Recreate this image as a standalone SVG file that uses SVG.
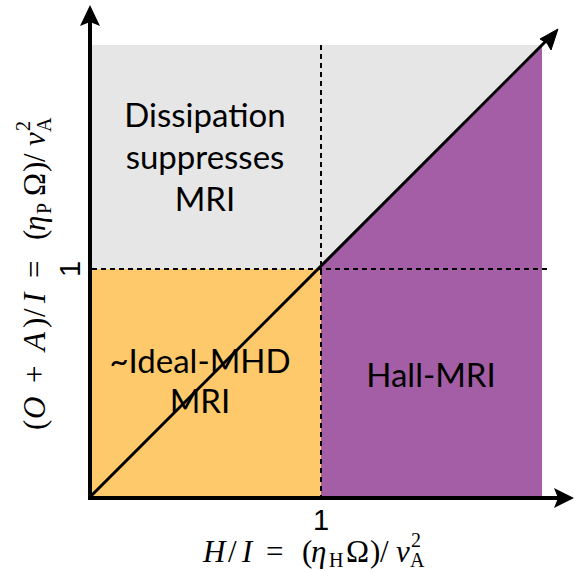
<svg xmlns="http://www.w3.org/2000/svg" width="574" height="572" viewBox="0 0 574 572">
<style>
.lbl{font-family:Lato,"Open Sans","Liberation Sans",sans-serif;font-size:33px;fill:#000;text-anchor:middle}
.math{font-family:"Liberation Serif","DejaVu Serif",serif;font-size:31px;fill:#000}
.it{font-style:italic}
.sm{font-size:20px}
.tick{font-family:"Liberation Sans",Arial,sans-serif;font-size:29px;fill:#000;text-anchor:middle}
.dash{stroke:#000;stroke-width:2;stroke-dasharray:5,4;fill:none}
.axis{stroke:#000;stroke-width:4;fill:none}
</style>
<rect width="574" height="572" fill="#fff"/>
<g id="region-dissipation">
<rect x="92" y="45" width="450" height="224" fill="#e6e6e6"/>
</g>
<g id="region-ideal">
<rect x="92" y="269" width="229" height="228" fill="#fdc96a"/>
</g>
<g id="region-hall">
<polygon points="321,269 321,497 542,497 542,46 319,269" fill="#a45ea6"/>
</g>
<g id="connectors">
<line class="dash" x1="321" y1="45" x2="321" y2="497"/>
<line class="dash" x1="92" y1="269" x2="551" y2="269"/>
<line x1="90" y1="497" x2="548" y2="39" stroke="#000" stroke-width="3"/>
<path d="M558,29 L551,50 L547,43 L540,39 Z" fill="#000" stroke="#000" stroke-width="1"/>
<line class="axis" x1="90" y1="499" x2="90" y2="22"/>
<path d="M90,5 L100,26 L90,22 L80,26 Z" fill="#000"/>
<line class="axis" x1="88" y1="498" x2="558" y2="498"/>
<path d="M574,498 L554,488 L558,498 L554,508 Z" fill="#000"/>
</g>
<g id="label-dissipation">
<text class="lbl" x="205" y="127">Dissipation</text>
<text class="lbl" x="205" y="169">suppresses</text>
<text class="lbl" x="205" y="211">MRI</text>
</g>
<g id="label-ideal">
<text class="lbl" x="200" y="373">~Ideal-MHD</text>
<text class="lbl" x="200" y="413">MRI</text>
</g>
<g id="label-hall">
<text class="lbl" x="431" y="387">Hall-MRI</text>
</g>
<g id="x-axis-label">
<text class="tick" x="321" y="530">1</text>
<text class="math" y="562"><tspan class="it" x="203">H</tspan><tspan x="228">/</tspan><tspan class="it" x="242">I</tspan><tspan x="266">=</tspan><tspan x="302">(</tspan><tspan class="it" x="311">η</tspan><tspan x="346">Ω</tspan><tspan x="370">)</tspan><tspan x="380">/</tspan><tspan class="it" x="396">v</tspan></text>
<text class="math sm" x="329" y="567">H</text>
<text class="math sm" x="411" y="547">2</text>
<text class="math sm" x="410" y="567">A</text>
</g>
<g id="y-axis-label">
<text class="tick" transform="translate(80,269) rotate(-90)" x="0" y="0">1</text>
<g transform="translate(45,430) rotate(-90)">
<text class="math" y="0"><tspan x="0">(</tspan><tspan class="it" x="11">O</tspan><tspan x="47">+</tspan><tspan class="it" x="79">A</tspan><tspan x="102">)</tspan><tspan x="113">/</tspan><tspan class="it" x="127">I</tspan><tspan x="152">=</tspan><tspan x="190">(</tspan><tspan class="it" x="199">η</tspan><tspan x="234">Ω</tspan><tspan x="258">)</tspan><tspan x="268">/</tspan><tspan class="it" x="284">v</tspan></text>
<text class="math sm" x="216" y="6">P</text>
<text class="math sm" x="299" y="-15">2</text>
<text class="math sm" x="298" y="6">A</text>
</g>
</g>
</svg>
